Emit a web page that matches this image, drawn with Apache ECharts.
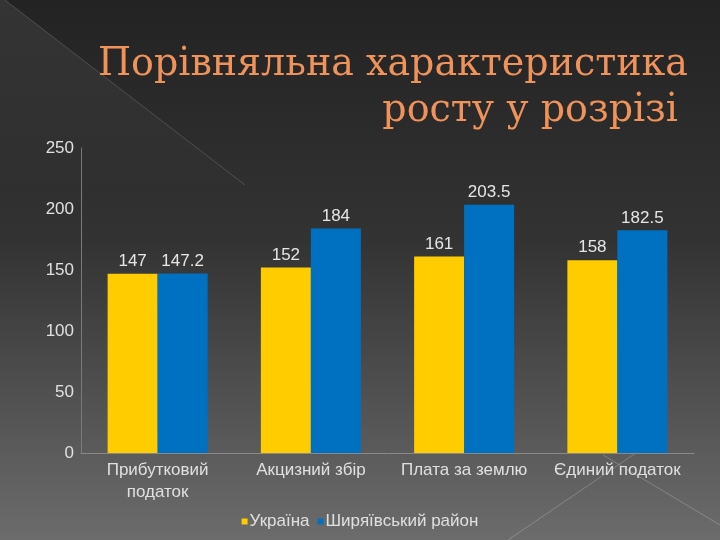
<!DOCTYPE html>
<html>
<head>
<meta charset="utf-8">
<script src="https://cdn.jsdelivr.net/npm/echarts@6/dist/echarts.min.js"></script>
<style>
  html, body { margin: 0; padding: 0; }
  #chart { width: 720px; height: 540px; }
</style>
</head>
<body>
<div id="chart"></div>
<script>
const categories = ['Прибутковий\nподаток', 'Акцизний збір', 'Плата за землю', 'Єдиний податок']
const ukraine = [147, 152, 161, 158]
const shyriaieve = [147.2, 184, 203.5, 182.5]
const seriesNames = ['Україна', 'Ширяївський район']

let mychart = echarts.init(document.getElementById('chart'))

const labelStyle = {
  show: true,
  position: 'top',
  color: '#e6e6e6',
  fontSize: 17,
  fontFamily: 'Liberation Sans',
  distance: 4,
}

mychart.setOption({
  backgroundColor: {
    type: 'linear', x: 0, y: 0, x2: 0, y2: 1,
    colorStops: [
      { offset: 0, color: '#232323' },
      { offset: 0.45, color: '#333333' },
      { offset: 1, color: '#6c6c6c' },
    ],
  },
  color: ['#ffcc00', '#0070c0'],
  graphic: [
    // lighter triangle top-left
    {
      type: 'polygon', z: -1, silent: true,
      shape: { points: [[0, 0], [5, 0], [250, 189], [0, 189]] },
      style: {
        fill: {
          type: 'linear', x: 0, y: 0, x2: 0, y2: 1,
          colorStops: [
            { offset: 0, color: 'rgba(255,255,255,0.08)' },
            { offset: 1, color: 'rgba(255,255,255,0)' },
          ],
        },
      },
    },
    {
      type: 'line', silent: true, z: -1,
      shape: { x1: 5, y1: 0, x2: 245, y2: 185 },
      style: { stroke: 'rgba(255,255,255,0.16)', lineWidth: 1 },
    },
    {
      type: 'line', silent: true, z: -1,
      shape: { x1: 508, y1: 540, x2: 655, y2: 440 },
      style: { stroke: 'rgba(255,255,255,0.22)', lineWidth: 1 },
    },
    {
      type: 'line', silent: true, z: -1,
      shape: { x1: 603, y1: 455, x2: 720, y2: 525 },
      style: { stroke: 'rgba(255,255,255,0.22)', lineWidth: 1 },
    },
    {
      type: 'text', x: 688, y: 85, scaleX: 0.95,
      style: {
        x: 0, y: 0,
        text: 'Порівняльна характеристика',
        fill: '#f0935a', font: '40px "DejaVu Serif"',
        textAlign: 'right', textVerticalAlign: 'bottom',
      },
    },
    {
      type: 'text', x: 678, y: 131, scaleX: 0.95,
      style: {
        x: 0, y: 0,
        text: 'росту у розрізі',
        fill: '#f0935a', font: '40px "DejaVu Serif"',
        textAlign: 'right', textVerticalAlign: 'bottom',
      },
    },
  ],
  legend: {
    bottom: 5,
    left: 'center',
    data: seriesNames,
    icon: 'rect',
    itemWidth: 6,
    itemHeight: 6,
    itemGap: 8,
    textStyle: { color: '#e0e0e0', fontSize: 17, fontFamily: 'Liberation Sans', padding: [0, 0, 0, -3] },
  },
  grid: {
    left: 81,
    right: 26,
    top: 148,
    bottom: 87,
  },
  xAxis: {
    type: 'category',
    data: categories,
    axisTick: { show: false },
    axisLine: { lineStyle: { color: '#8a8a8a' } },
    axisLabel: {
      color: '#e0e0e0', fontSize: 17, fontFamily: 'Liberation Sans',
      interval: 0, margin: 6, lineHeight: 22,
    },
  },
  yAxis: {
    type: 'value',
    min: 0,
    max: 250,
    interval: 50,
    splitLine: { show: false },
    axisTick: { show: false },
    axisLine: { show: true, lineStyle: { color: '#7a7a7a' } },
    axisLabel: { color: '#e0e0e0', fontSize: 17, fontFamily: 'Liberation Sans', margin: 7 },
  },
  series: [
    {
      name: seriesNames[0],
      type: 'bar',
      data: ukraine,
      barWidth: 50,
      barGap: '0%',
      label: labelStyle,
    },
    {
      name: seriesNames[1],
      type: 'bar',
      data: shyriaieve,
      barWidth: 50,
      barGap: '0%',
      label: labelStyle,
    },
  ],
})
</script>
</body>
</html>
